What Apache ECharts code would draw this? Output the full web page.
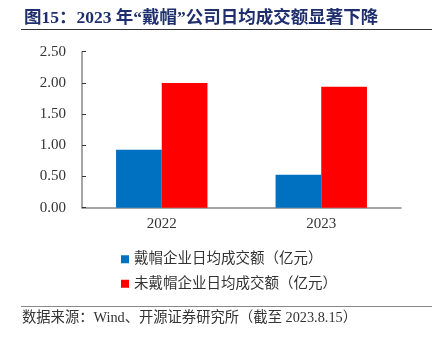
<!DOCTYPE html>
<html><head><meta charset="utf-8">
<script src="https://cdn.jsdelivr.net/npm/echarts@6/dist/echarts.min.js"></script>
<style>html,body{margin:0;padding:0;background:#fff}#c{width:437px;height:340px}</style>
</head><body><div id="c"></div>
<script>
var categories = ['2022', '2023'];
var capped = [0.93, 0.53];
var uncapped = [2.00, 1.94];
var yTicks = [0, 0.5, 1.0, 1.5, 2.0, 2.5];
var seriesNames = ['戴帽企业日均成交额（亿元）', '未戴帽企业日均成交额（亿元）'];
var titleText = '图15：2023 年“戴帽”公司日均成交额显著下降';
var sourceText = '数据来源：Wind、开源证券研究所（截至 2023.8.15）';

var FONT = '"Liberation Serif", "Times New Roman", "Noto Sans CJK SC", serif';
var chart = echarts.init(document.getElementById('c'), null, {renderer: 'canvas'});
chart.setOption({
  animation: false,
  title: {
    text: titleText, left: 19, top: 5,
    textStyle: {fontFamily: FONT, fontWeight: 'bold', fontSize: 17.5, color: '#1F2F6E'}
  },
  graphic: [
    {type: 'line', shape: {x1: 21, y1: 29.5, x2: 432, y2: 29.5}, style: {stroke: '#333', lineWidth: 1.2}},
    {type: 'line', shape: {x1: 21, y1: 306.5, x2: 432, y2: 306.5}, style: {stroke: '#888', lineWidth: 1}},
    {type: 'text', left: 22, top: 311, style: {text: sourceText, font: '14.3px ' + FONT, fill: '#333'}}
  ],
  legend: {
    orient: 'vertical', left: 116, top: 247, itemWidth: 8, itemHeight: 8, itemGap: 10,
    icon: 'rect',
    textStyle: {fontFamily: FONT, fontSize: 14.5, color: '#333'},
    data: seriesNames
  },
  grid: {left: 82, right: 36, top: 51.7, bottom: 132.3, containLabel: false},
  xAxis: {
    type: 'category', data: categories,
    axisLine: {lineStyle: {color: '#888', width: 1.5}},
    axisTick: {inside: true, length: 5, lineStyle: {color: '#333'}},
    axisLabel: {fontFamily: FONT, fontSize: 15, color: '#333', margin: 9}
  },
  yAxis: {
    type: 'value', min: 0, max: 2.5, interval: 0.5,
    splitLine: {show: false},
    axisLine: {show: true, lineStyle: {color: '#888', width: 1.5}},
    axisTick: {show: true, inside: true, length: 4, lineStyle: {color: '#333'}},
    axisLabel: {fontFamily: FONT, fontSize: 15, color: '#333', margin: 16,
      formatter: function (v) { return v.toFixed(2); }}
  },
  series: [
    {name: seriesNames[0], type: 'bar', data: capped, barGap: '0%', barCategoryGap: '42.7%',
      itemStyle: {color: '#0070C0'}},
    {name: seriesNames[1], type: 'bar', data: uncapped, barGap: '0%', barCategoryGap: '42.7%',
      itemStyle: {color: '#FF0000'}}
  ]
});
</script></body></html>
